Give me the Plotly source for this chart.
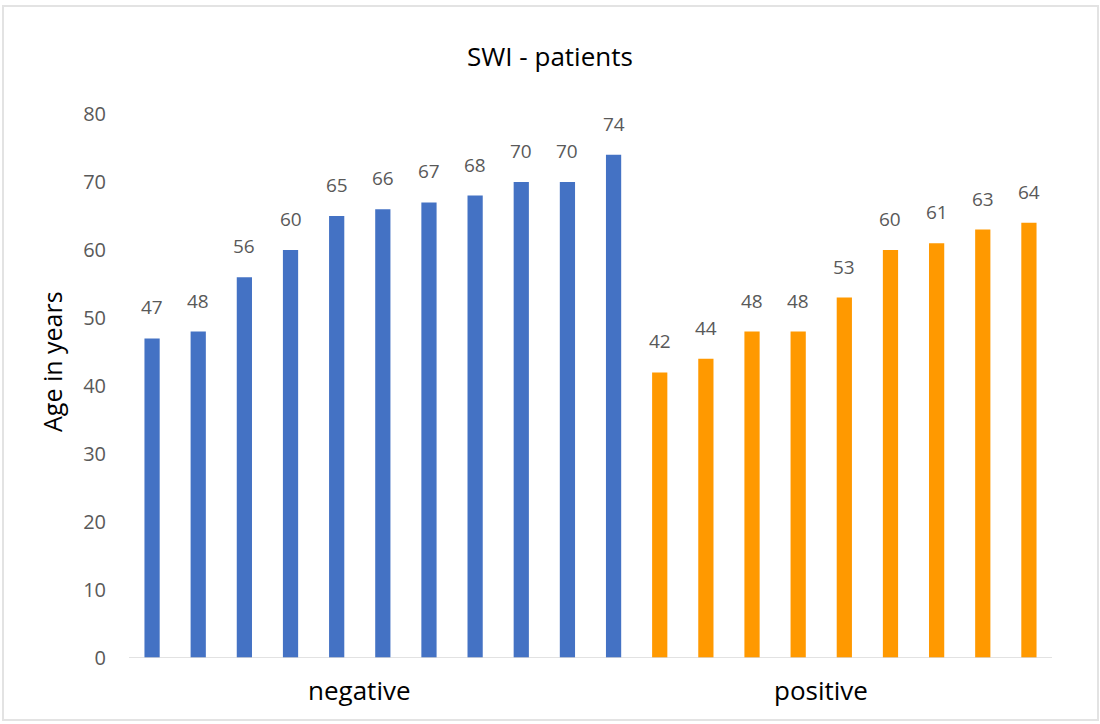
import plotly.graph_objects as go

negative_ages = [47, 48, 56, 60, 65, 66, 67, 68, 70, 70, 74]
positive_ages = [42, 44, 48, 48, 53, 60, 61, 63, 64]
group_labels = ["negative", "positive"]
y_ticks = [0, 10, 20, 30, 40, 50, 60, 70, 80]

neg_x = list(range(len(negative_ages)))
pos_x = list(range(len(negative_ages), len(negative_ages) + len(positive_ages)))
n_total = len(negative_ages) + len(positive_ages)

FONT = "Open Sans"
L, R, T, B = 129, 48, 114, 66
W, H = 1100, 724
PW, PH = W - L - R, H - T - B

fig = go.Figure()
fig.add_trace(go.Bar(x=neg_x, y=negative_ages, marker_color="#4472C4", width=0.33,
                     marker_line_width=0, name="negative"))
fig.add_trace(go.Bar(x=pos_x, y=positive_ages, marker_color="#FF9900", width=0.33,
                     marker_line_width=0, name="positive"))

# data labels
for xs, vals in [(neg_x, negative_ages), (pos_x, positive_ages)]:
    for xi, v in zip(xs, vals):
        fig.add_annotation(x=xi, y=v, xref="x", yref="y", text=str(v), showarrow=False,
                           yanchor="bottom", yshift=16,
                           font=dict(size=19, color="#595959", family=FONT))

fig.update_layout(
    width=W, height=H,
    paper_bgcolor="white", plot_bgcolor="white",
    margin=dict(l=L, r=R, t=T, b=B, autoexpand=False),
    showlegend=False,
    title=dict(text="SWI - patients", x=0.5, xanchor="center", y=1 - 57 / H, yanchor="middle",
               font=dict(size=26, color="black", family=FONT)),
    xaxis=dict(range=[-0.5, n_total - 0.5], showticklabels=False, showgrid=False,
               zeroline=False, showline=False, ticks="", automargin=False),
    yaxis=dict(range=[0, 80], tickvals=y_ticks, showgrid=False, zeroline=False,
               showline=False, ticks="", automargin=False, ticklabelstandoff=22,
               tickfont=dict(size=20, color="#595959", family=FONT)),
)
# baseline
fig.add_shape(type="line", xref="paper", yref="y", x0=0, x1=1, y0=0, y1=0,
              line=dict(color="#D9D9D9", width=1.5))
# outer frame
fig.add_shape(type="rect", xref="paper", yref="paper",
              x0=(3 - L) / PW, x1=(1098 - L) / PW,
              y0=-(720 - (T + PH)) / PH, y1=1 + (T - 6) / PH,
              line=dict(color="#E3E3E3", width=2))
# y axis title
fig.add_annotation(x=(52 - L) / PW, y=(T + PH - 362) / PH, xref="paper", yref="paper",
                   text="Age in years", textangle=-90, showarrow=False,
                   xanchor="center", yanchor="middle",
                   font=dict(size=25, color="black", family=FONT))
# group labels
for label, grp in zip(group_labels, [neg_x, pos_x]):
    center = (grp[0] + grp[-1]) / 2 - 0.5
    fig.add_annotation(x=center, y=0, xref="x", yref="y", yshift=-32,
                       text=label, showarrow=False, yanchor="middle",
                       font=dict(size=26, color="black", family=FONT))

fig.write_html("out.html", config={"displayModeBar": False},
               post_script="document.body.style.margin='0';")
